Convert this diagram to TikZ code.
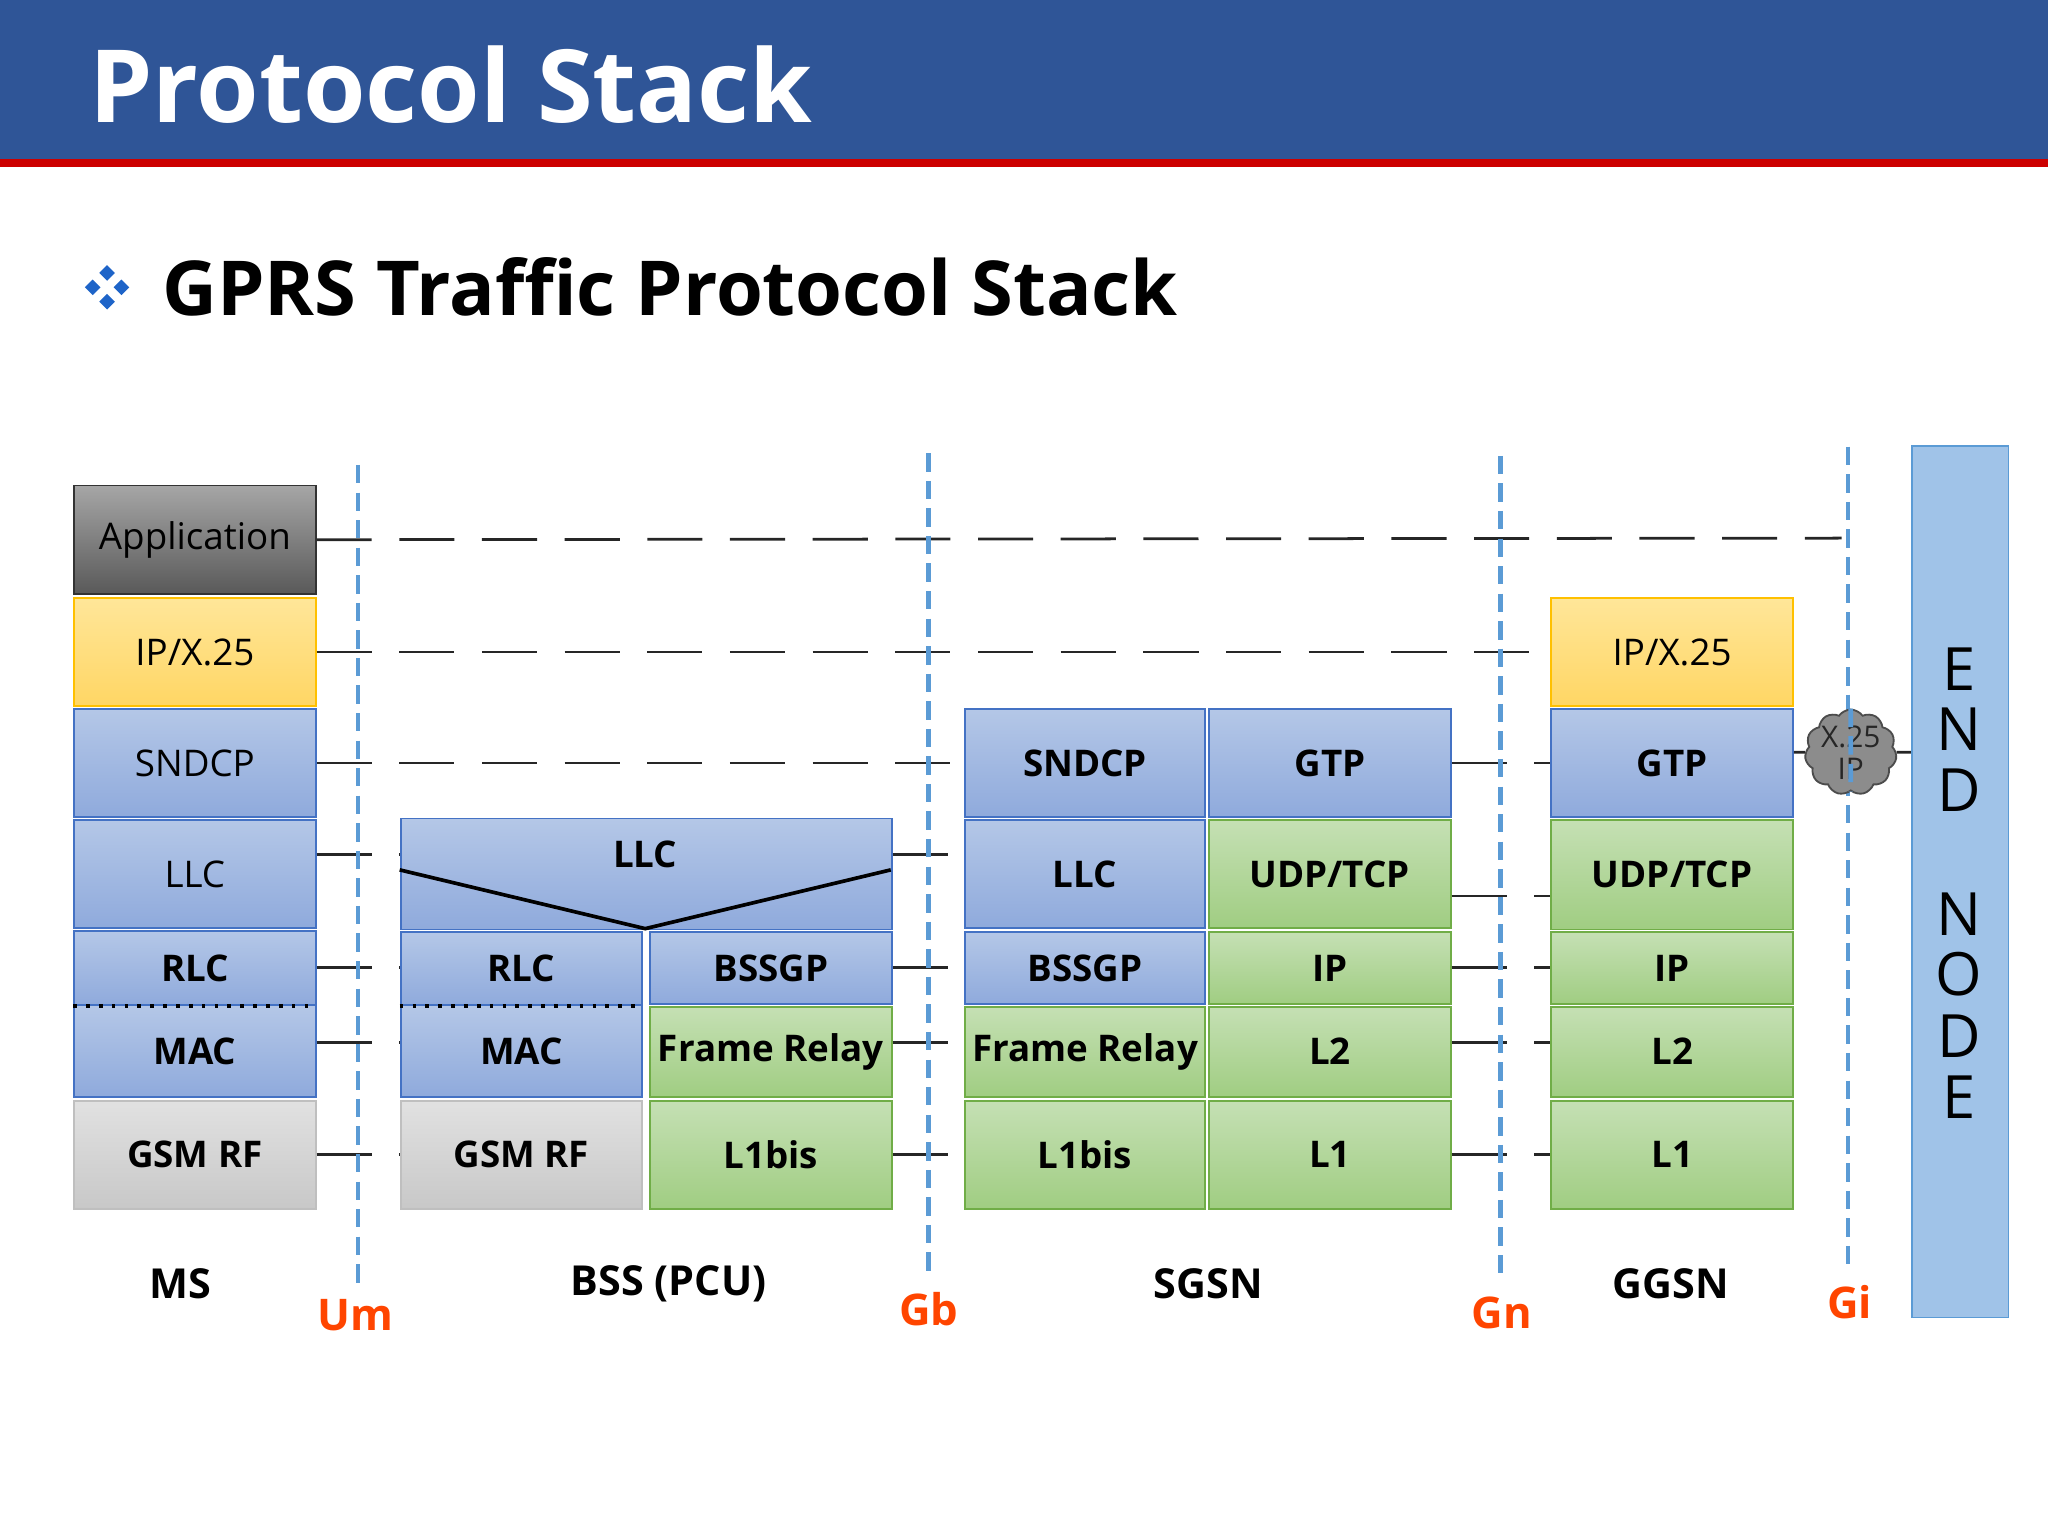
\documentclass[tikz,border=0pt]{standalone}
\usepackage{fontspec}
\setmainfont{Open Sans}
\usetikzlibrary{shapes.symbols}
\definecolor{hdr}{HTML}{2F5597}
\definecolor{lbl}{HTML}{FF4500}
\definecolor{blD}{HTML}{4472C4}\definecolor{blT}{RGB}{180,199,231}\definecolor{blB}{RGB}{143,170,220}
\definecolor{grD}{RGB}{112,173,71}\definecolor{grT}{RGB}{197,224,180}\definecolor{grB}{RGB}{160,205,130}
\definecolor{yeD}{RGB}{255,192,0}\definecolor{yeT}{RGB}{255,230,153}\definecolor{yeB}{RGB}{255,214,100}
\definecolor{gyD}{RGB}{191,191,191}\definecolor{gyT}{RGB}{225,225,225}\definecolor{gyB}{RGB}{200,200,200}
\definecolor{vcol}{RGB}{91,155,213}\definecolor{enf}{RGB}{160,195,232}\definecolor{bul}{RGB}{30,100,200}
\tikzset{
 pb/.style={draw=#1, inner sep=0pt, font=\fontsize{8}{9}\selectfont},
 bl/.style={pb=blD, top color=blT, bottom color=blB},
 gr/.style={pb=grD, top color=grT, bottom color=grB},
 ye/.style={pb=yeD, top color=yeT, bottom color=yeB},
 gy/.style={pb=gyD, top color=gyT, bottom color=gyB},
 ap/.style={pb=black!80, top color=black!35, bottom color=black!65},
 en/.style={pb=vcol, fill=enf},
 hl/.style={black!85, dashed, dash pattern=on 12pt off 6pt, line width=0.6pt},
 vl/.style={vcol, dashed, dash pattern=on 4pt off 2pt, line width=1pt},
 if/.style={text=lbl, font=\bfseries\fontsize{9.5}{10}\selectfont},
 nm/.style={font=\bfseries\fontsize{9}{10}\selectfont},
}
\newcommand\pbox[7]{\node[#2, anchor=north west, minimum width={(#5-#3)*0.01cm}, minimum height={(#6-#4)*0.01cm}] (#1) at (#3,#4) {#7};}
\begin{document}
\begin{tikzpicture}[x=0.01cm,y=-0.01cm]
\useasboundingbox (0,0) rectangle (1568,1176);
\fill[hdr] (0,0) rectangle (1568,122);
\fill[red!80!black] (0,122) rectangle (1568,128);
\node[anchor=west, text=white, font=\bfseries\fontsize{22}{24}\selectfont] (title) at (56,65) {Protocol Stack};
\foreach \dx/\dy in {0/-11,0/11,-11/0,11/0}{\fill[bul] (82+\dx,220+\dy-6) -- ++(6,6) -- ++(-6,6) -- ++(-6,-6) -- cycle;}
\node[anchor=west, font=\bfseries\fontsize{16.5}{18}\selectfont] (sub) at (112,220) {GPRS Traffic Protocol Stack};
% MS
\pbox{msapp}{ap}{56}{371}{241}{454}{Application}
\pbox{msip}{ye}{56}{457}{241}{540}{IP/X.25}
\pbox{mssn}{bl}{56}{542}{241}{625}{SNDCP}
\pbox{msllc}{bl}{56}{627}{241}{710}{LLC}
\pbox{msrlc}{bl}{56}{712}{241}{769}{\bfseries RLC}
\pbox{msmac}{bl}{56}{769}{241}{839}{\bfseries MAC}
\pbox{msrf}{gy}{56}{842}{241}{925}{\bfseries GSM RF}
\draw[dotted, thick] (msrlc.south west) -- (msrlc.south east);
% BSS
\pbox{bllc}{bl}{306}{626}{682}{711}{}
\node[font=\bfseries\fontsize{8}{9}\selectfont] (bllct) at (494,654) {LLC};
\draw[thick] (306,666) -- (494,711) -- (682,666);
\pbox{brlc}{bl}{306}{713}{491}{769}{\bfseries RLC}
\pbox{bmac}{bl}{306}{769}{491}{839}{\bfseries MAC}
\draw[dotted, thick] (brlc.south west) -- (brlc.south east);
\pbox{bbss}{bl}{497}{713}{682}{768}{\bfseries BSSGP}
\pbox{bfr}{gr}{497}{770}{682}{839}{\bfseries Frame Relay}
\pbox{brf}{gy}{306}{842}{491}{925}{\bfseries GSM RF}
\pbox{bl1}{gr}{497}{842}{682}{925}{\bfseries L1bis}
% SGSN
\pbox{ssn}{bl}{738}{542}{922}{625}{\bfseries SNDCP}
\pbox{sgtp}{bl}{925}{542}{1110}{625}{\bfseries GTP}
\pbox{sllc}{bl}{738}{627}{922}{710}{\bfseries LLC}
\pbox{sudp}{gr}{925}{627}{1110}{710}{\bfseries UDP/TCP}
\pbox{sbss}{bl}{738}{713}{922}{768}{\bfseries BSSGP}
\pbox{sip}{gr}{925}{713}{1110}{768}{\bfseries IP}
\pbox{sfr}{gr}{738}{770}{922}{839}{\bfseries Frame Relay}
\pbox{sl2}{gr}{925}{770}{1110}{839}{\bfseries L2}
\pbox{sl1b}{gr}{738}{842}{922}{925}{\bfseries L1bis}
\pbox{sl1}{gr}{925}{842}{1110}{925}{\bfseries L1}
% GGSN
\pbox{gip}{ye}{1187}{457}{1372}{540}{IP/X.25}
\pbox{ggtp}{bl}{1187}{542}{1372}{625}{\bfseries GTP}
\pbox{gudp}{gr}{1187}{627}{1372}{711}{\bfseries UDP/TCP}
\pbox{gipb}{gr}{1187}{713}{1372}{768}{\bfseries IP}
\pbox{gl2}{gr}{1187}{770}{1372}{839}{\bfseries L2}
\pbox{gl1}{gr}{1187}{842}{1372}{925}{\bfseries L1}
% End node
\pbox{endn}{en}{1463}{341}{1537}{1008}{}
\foreach \l/\y [count=\i] in {E/512,N/558,D/605,N/700,O/746,D/793,E/840}
  \node[font=\fontsize{13}{14}\selectfont] (en\i) at (1500,\y) {\l};
% dashed horizontal
\coordinate (giA) at (1410,412);
\draw[hl] (msapp.east) -- (giA);
\draw[hl] (msip.east) -- (gip.west);
\draw[hl] (mssn.east) -- (ssn.west);
\draw[hl] (sgtp.east) -- (ggtp.west);
\draw[hl] (msllc.east |- bllct) -- (bllc.west |- bllct);
\draw[hl] (bllc.east |- bllct) -- (sllc.west |- bllct);
\draw[hl] (sudp.east |- 0,686) -- (gudp.west |- 0,686);
\foreach \a/\b in {msrlc/brlc,bbss/sbss,sip/gipb}{\draw[hl] (\a.east |- 0,741) -- (\b.west |- 0,741);}
\foreach \a/\b in {msmac/bmac,bfr/sfr,sl2/gl2}{\draw[hl] (\a.east |- 0,798) -- (\b.west |- 0,798);}
\foreach \a/\b in {msrf/brf,bl1/sl1b,sl1/gl1}{\draw[hl] (\a.east |- 0,884) -- (\b.west |- 0,884);}
% vertical dashed
\coordinate (v1a) at (274,356); \coordinate (v1b) at (274,985);
\coordinate (v2a) at (711,347); \coordinate (v2b) at (711,975);
\coordinate (v3a) at (1149,349); \coordinate (v3b) at (1149,975);
\coordinate (v4a) at (1415,342); \coordinate (v4b) at (1415,970);
\foreach \i in {1,...,4}{\draw[vl] (v\i a) -- (v\i b);}
% cloud
\node[cloud, cloud puffs=11, cloud puff arc=110, aspect=1.1, draw=black!70, fill=black!45, inner sep=0pt, font=\fontsize{6.5}{7}\selectfont, align=center, text=black!85, minimum width=0.64cm, minimum height=0.58cm] (cl) at (1417,576) {X.25\\IP};
\draw[black!85, line width=0.6pt] (ggtp.east |- cl) -- (cl.west);
\draw[black!85, line width=0.6pt] (cl.east) -- (endn.west |- cl);
\draw[vl] (cl.north) -- (cl.south);
% labels
\node[if] (um) at (272,1007) {Um};
\node[if] (gb) at (711,1002) {Gb};
\node[if] (gn) at (1150,1005) {Gn};
\node[if] (gi) at (1416,997) {Gi};
\node[nm] (ms) at (138,983) {MS};
\node[nm] (bss) at (512,983) {BSS (PCU)};
\node[nm] (sg) at (925,983) {SGSN};
\node[nm] (gg) at (1279,983) {GGSN};
\end{tikzpicture}
\end{document}
